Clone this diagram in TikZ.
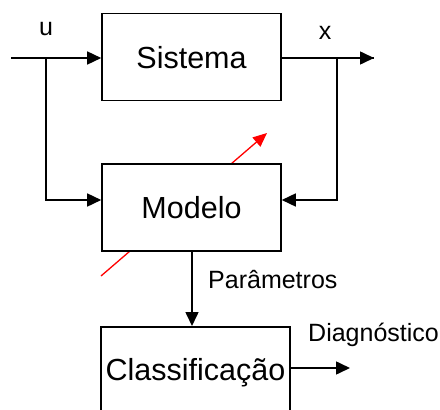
\documentclass[tikz,border=0pt]{standalone}
\usepackage{fontspec}
\setmainfont{Liberation Sans}
\usetikzlibrary{arrows.meta}
\begin{document}
\begin{tikzpicture}[x=1pt,y=-1pt,
  blockbox/.style={draw=black,line width=1.6pt,fill=white,minimum width=179pt,
    minimum height=87pt,inner sep=0pt,font=\fontsize{30.5}{32}\selectfont,
    text height=22pt,text depth=0pt},
  signal/.style={line width=1.6pt,-{Triangle[length=14pt,width=13pt]}},
  wire/.style={line width=1.6pt},
  lbl/.style={font=\fontsize{25}{27}\selectfont,inner sep=0pt,anchor=base west},
  adjust/.style={draw=red,line width=1.3pt,-{Triangle[length=14pt,width=12pt]}}]
\useasboundingbox (0,0) rectangle (440,410);
\clip (0,0) rectangle (440,410);

% adjustment arrow through the model block (drawn first, the block covers it)
\coordinate (adjA) at (101,276);
\coordinate (adjB) at (267,133);
\draw[adjust] (adjA) -- (adjB);

% blocks
\node[blockbox] (sis) at (191.5,57) {Sistema};
\node[blockbox] (mod) at (191.5,207.5) {Modelo};
\node[blockbox,minimum width=189pt,minimum height=86pt,anchor=north] (cls) at (195.5,326) {Classificação};

% signal points
\coordinate (uin) at (11,58);
\coordinate (ub) at (46,58);
\coordinate (xout) at (374,58);
\coordinate (xb) at (337,58);
\coordinate (diag) at (350,368);

% input and output of the system
\draw[signal] (uin) -- (sis.west |- uin);
\draw[wire] (sis.east |- xout) -- (xout);
\draw[signal] (xb) -- (xout);
\draw[signal] (ub) |- ([yshift=7.5pt]mod.west);
\draw[signal] (xb) |- ([yshift=7.5pt]mod.east);

% model parameters to the classifier, and its diagnosis
\draw[signal] ([xshift=0.5pt]mod.south) -- ([xshift=0.5pt]mod.south |- cls.north);
\draw[signal] (cls.east |- diag) -- (diag);

% labels
\node[lbl,anchor=base] (ulbl) at (46,35) {u};
\node[lbl,anchor=base] (xlbl) at (325,39) {x};
\node[lbl] (plbl) at (208,288) {Parâmetros};
\node[lbl] (dlbl) at (308,341) {Diagnóstico};
\end{tikzpicture}
\end{document}
